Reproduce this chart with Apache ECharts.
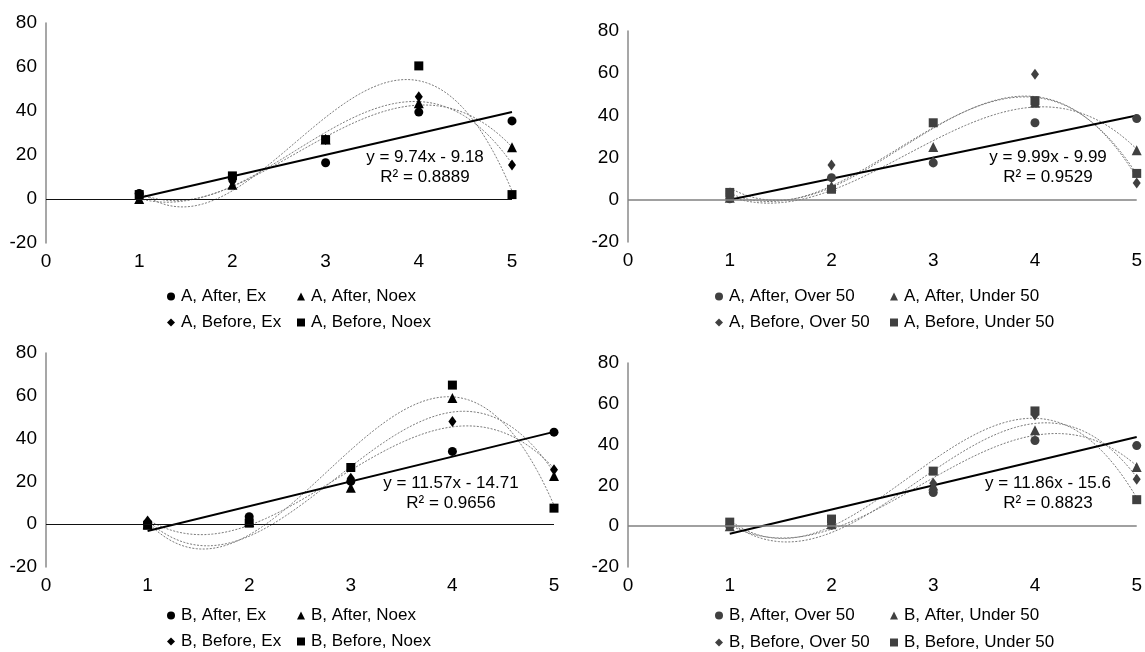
<!DOCTYPE html>
<html>
<head>
<meta charset="utf-8">
<script src="https://cdn.jsdelivr.net/npm/echarts@6/dist/echarts.min.js"></script>
<style>
  html, body { margin: 0; background: #fff; }
  #chart { width: 1145px; height: 652px; }
</style>
</head>
<body>
<div id="chart"></div>
<script>
// x positions shared by every panel
const xs = [1, 2, 3, 4, 5];

// panel A, Ex / Noex
const aExNames = ['A, After, Ex', 'A, After, Noex', 'A, Before, Ex', 'A, Before, Noex'];
const aAfterEx = [2.5, 9.5, 16.5, 39.5, 35.5];
const aAfterNoex = [0, 6.5, 27, 43.5, 23.5];
const aBeforeEx = [2, 8, 27, 46.5, 15.5];
const aBeforeNoex = [2, 10.5, 27, 60.5, 2];
const aExTrend = [9.74, -9.18];
const aExR2 = '0.8889';

// panel A, Over / Under 50
const aAgeNames = ['A, After, Over 50', 'A, After, Under 50', 'A, Before, Over 50', 'A, Before, Under 50'];
const aAfterOver = [0.5, 10.5, 17.5, 36.5, 38.5];
const aAfterUnder = [1, 6.5, 25, 46, 23.5];
const aBeforeOver = [3, 16.5, 18, 59.5, 8];
const aBeforeUnder = [3.5, 5, 36.5, 47, 12.5];
const aAgeTrend = [9.99, -9.99];
const aAgeR2 = '0.9529';

// panel B, Ex / Noex
const bExNames = ['B, After, Ex', 'B, After, Noex', 'B, Before, Ex', 'B, Before, Noex'];
const bAfterEx = [0.5, 3.5, 20, 34, 43];
const bAfterNoex = [0, 1, 17, 59, 22.5];
const bBeforeEx = [1.5, 2, 21.5, 48, 25.5];
const bBeforeNoex = [-0.5, 0.5, 26.5, 65, 7.5];
const bExTrend = [11.57, -14.71];
const bExR2 = '0.9656';

// panel B, Over / Under 50
const bAgeNames = ['B, After, Over 50', 'B, After, Under 50', 'B, Before, Over 50', 'B, Before, Under 50'];
const bAfterOver = [0, 0.5, 16.5, 42, 39.5];
const bAfterUnder = [0, 1, 20, 47, 29];
const bBeforeOver = [1, 1, 21, 54.5, 23];
const bBeforeUnder = [2, 3.5, 27, 56.5, 13];
const bAgeTrend = [11.86, -15.6];
const bAgeR2 = '0.8823';

const yTicks = { min: -20, max: 80, step: 20 };
const xTicks = { min: 0, max: 5, step: 1 };

const symbols = ['circle', 'triangle', 'diamond', 'rect'];
const symbolSizes = [9, 10, [8, 11], 9];
const FONT = 'Liberation Sans, Arial, sans-serif';

// layout of each panel (pixels)
const panels = [
  { names: aExNames, values: [aAfterEx, aAfterNoex, aBeforeEx, aBeforeNoex], trend: aExTrend, r2: aExR2,
    grid: { left: 46, top: 23, width: 466, height: 220 }, dark: '#000', zero: '#111', zeroW: 1,
    legendX: [167, 297], legendY: [288, 314], eq: [425, 167] },
  { names: aAgeNames, values: [aAfterOver, aAfterUnder, aBeforeOver, aBeforeUnder], trend: aAgeTrend, r2: aAgeR2,
    grid: { left: 628, top: 31, width: 510, height: 211 }, dark: '#404040', zero: '#808080', zeroW: 1.5,
    legendX: [715, 890], legendY: [288, 314], eq: [1048, 167] },
  { names: bExNames, values: [bAfterEx, bAfterNoex, bBeforeEx, bBeforeNoex], trend: bExTrend, r2: bExR2,
    grid: { left: 46, top: 353, width: 508, height: 214 }, dark: '#000', zero: '#111', zeroW: 1,
    legendX: [167, 297], legendY: [607, 633], eq: [451, 493] },
  { names: bAgeNames, values: [bAfterOver, bAfterUnder, bBeforeOver, bBeforeUnder], trend: bAgeTrend, r2: bAgeR2,
    grid: { left: 628, top: 363, width: 510, height: 204 }, dark: '#404040', zero: '#808080', zeroW: 1.5,
    legendX: [715, 890], legendY: [607, 634], eq: [1048, 493] }
];

// least squares polynomial, like a spreadsheet trendline
function polyFit(xv, yv, deg) {
  const n = deg + 1;
  const A = Array.from({ length: n }, () => new Array(n + 1).fill(0));
  for (let i = 0; i < n; i++) {
    for (let j = 0; j < n; j++) A[i][j] = xv.reduce((s, x) => s + Math.pow(x, i + j), 0);
    A[i][n] = xv.reduce((s, x, k) => s + Math.pow(x, i) * yv[k], 0);
  }
  for (let c = 0; c < n; c++) {
    let p = c;
    for (let r = c + 1; r < n; r++) if (Math.abs(A[r][c]) > Math.abs(A[p][c])) p = r;
    [A[c], A[p]] = [A[p], A[c]];
    for (let r = 0; r < n; r++) {
      if (r === c) continue;
      const f = A[r][c] / A[c][c];
      for (let k = c; k <= n; k++) A[r][k] -= f * A[c][k];
    }
  }
  return A.map((row, i) => row[n] / row[i]);
}

function fitCurve(ys) {
  const coef = polyFit(xs, ys, 3);
  const pts = [];
  for (let x = xs[0]; x <= xs[xs.length - 1] + 1e-9; x += 0.04) {
    pts.push([x, coef.reduce((s, c, i) => s + c * Math.pow(x, i), 0)]);
  }
  return pts;
}

const grids = [], xAxes = [], yAxes = [], series = [], legends = [], graphics = [];

panels.forEach((p, pi) => {
  grids.push(p.grid);
  xAxes.push({
    type: 'value', gridIndex: pi, min: xTicks.min, max: xTicks.max, interval: xTicks.step,
    axisLine: { show: false }, axisTick: { show: false }, splitLine: { show: false },
    axisLabel: { fontSize: 19, color: '#000', fontFamily: FONT, margin: 9 }
  });
  yAxes.push({
    type: 'value', gridIndex: pi, min: yTicks.min, max: yTicks.max, interval: yTicks.step,
    axisLine: { show: true, onZero: false, lineStyle: { color: '#8a8a8a', width: 1.5 } },
    axisTick: { show: false }, splitLine: { show: false },
    axisLabel: { fontSize: 19, color: '#000', fontFamily: FONT, margin: 9 }
  });

  // dotted cubic trendlines for the last three series
  p.values.forEach((ys, si) => {
    if (si === 0) return;
    series.push({
      type: 'line', xAxisIndex: pi, yAxisIndex: pi, data: fitCurve(ys),
      showSymbol: false, silent: true, z: 2,
      lineStyle: { color: '#7a7a7a', width: 1, type: [2, 1.5] }
    });
  });

  // linear trendline of the first series + zero line
  const [m, b] = p.trend;
  series.push({
    type: 'line', xAxisIndex: pi, yAxisIndex: pi,
    data: [[xs[0], m * xs[0] + b], [xs[xs.length - 1], m * xs[xs.length - 1] + b]],
    showSymbol: false, silent: true, z: 3,
    lineStyle: { color: '#000', width: 2 },
    markLine: {
      silent: true, symbol: 'none', label: { show: false },
      lineStyle: { color: p.zero, width: p.zeroW, type: 'solid' },
      data: [{ yAxis: 0 }]
    }
  });

  p.values.forEach((ys, si) => {
    series.push({
      name: p.names[si], type: 'scatter', xAxisIndex: pi, yAxisIndex: pi,
      symbol: symbols[si], symbolSize: symbolSizes[si], z: 4,
      itemStyle: { color: p.dark, opacity: 1 },
      data: xs.map((x, i) => [x, ys[i]])
    });
    legends.push({
      data: [p.names[si]], left: p.legendX[si % 2], top: p.legendY[Math.floor(si / 2)],
      padding: 0, itemWidth: 8, itemHeight: 8, itemGap: 0, selectedMode: false,
      itemStyle: { opacity: 1 },
      textStyle: { fontSize: 17, color: '#000', fontFamily: FONT, padding: [0, 0, 0, 1] }
    });
  });

  const eqText = 'y = ' + m + 'x - ' + Math.abs(b);
  graphics.push({
    type: 'text', x: p.eq[0], y: p.eq[1], silent: true,
    style: { text: eqText + '\nR² = ' + p.r2, fill: '#000', font: '17px ' + FONT,
      align: 'center', verticalAlign: 'middle', lineHeight: 20 }
  });
});

const chart = echarts.init(document.getElementById('chart'));
chart.setOption({
  animation: false,
  backgroundColor: '#fff',
  grid: grids,
  xAxis: xAxes,
  yAxis: yAxes,
  legend: legends,
  series: series,
  graphic: graphics
});
</script>
</body>
</html>
